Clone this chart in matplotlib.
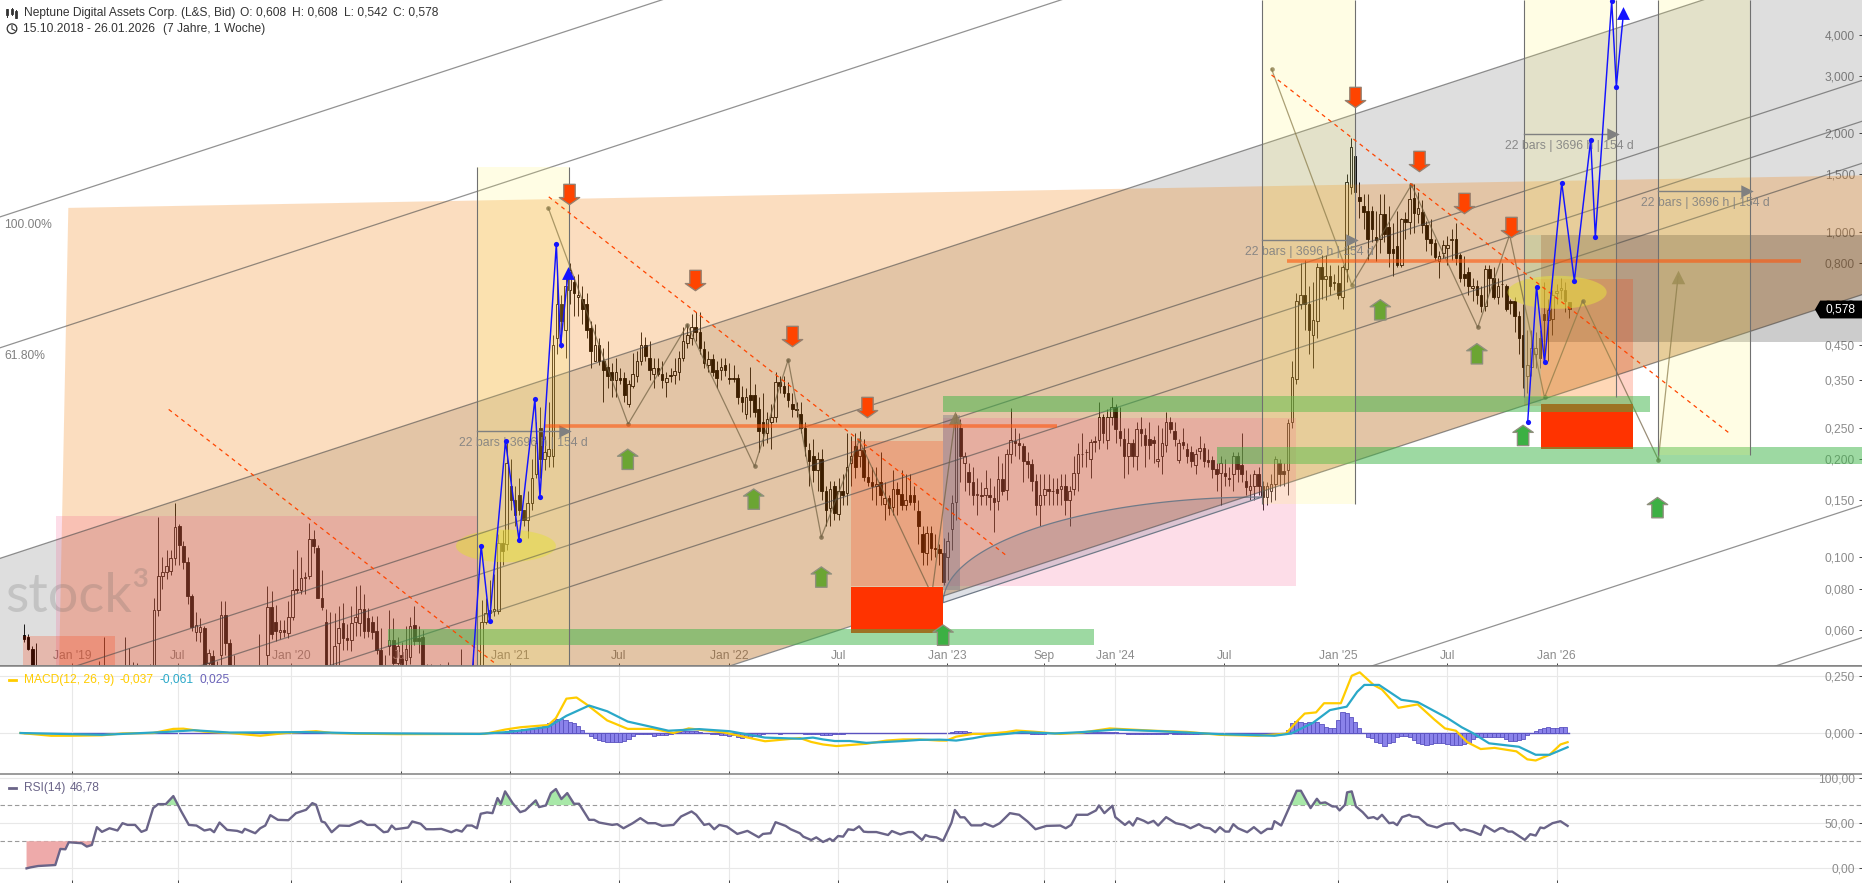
import numpy as np
import matplotlib
matplotlib.use('Agg')
import matplotlib.pyplot as plt
from matplotlib.path import Path
from matplotlib.patches import Polygon, Rectangle
from matplotlib.ticker import NullLocator, FixedLocator, FixedFormatter
plt.rcParams['font.family'] = ['Liberation Sans', 'DejaVu Sans']

# ---------- weekly candles ----------
opens = [
.0578,.057,.0525,.044,.04,.038,.036,.037,.035,.034,
.036,.035,.034,.033,.035,.034,.036,.035,.037,.036,
.04,.038,.037,.036,.038,.041,.039,.038,.04,.041,
.043,.045,.069,.0875,.09,.091,.0995,.125,.108,.097,
.076,.0588,.059,.0607,.0475,.0498,.046,.05,.0667,.0545,
.042,.04,.039,.038,.04,.039,.041,.04,.05,.0705,
.0635,.059,.06,.0585,.0655,.08,.0795,.0865,.0875,.114,
.107,.075,.0635,.044,.044,.0546,.0628,.0565,.0558,.0635,
.0628,.0695,.065,.0635,.0596,.052,.044,.0535,.0558,.0473,
.05,.0485,.0494,.0618,.0565,.057,.045,.043,.042,.04,.041,
.042,.04,.041,.04,.039,.041,.041,.0465,.045,.0635,
.0675,.0685,.0685,.111,.11,.165,.15,.155,.14,.13,
.147,.18,.25,.2,.205,.205,.47,.6,.5,.66,
.70,.63,.62,.6,.505,.40,.45,.40,.385,.37,
.35,.355,.355,.295,.335,.36,.40,.45,.41,.365,
.38,.365,.345,.362,.362,.37,.41,.455,.47,.51,
.49,.435,.39,.405,.375,.375,.39,.355,.355,.355,
.31,.275,.315,.315,.285,.26,.24,.26,.27,.345,
.335,.32,.295,.285,.275,.25,.214,.205,.186,.2,
.16,.142,.165,.136,.16,.158,.195,.22,.205,.214,
.177,.17,.166,.17,.146,.152,.143,.162,.156,.145,
.155,.155,.139,.118,.103,.119,.107,.106,.103,.10,
.122,.148,.25,.195,.183,.17,.155,.155,.155,.155,
.152,.149,.174,.161,.208,.228,.224,.22,.198,.193,
.172,.145,.155,.162,.16,.162,.162,.166,.15,.162,
.181,.208,.21,.2,.228,.229,.27,.229,.27,.29,
.245,.23,.204,.224,.205,.247,.237,.23,.229,.198,
.204,.222,.26,.245,.199,.226,.215,.211,.192,.212,
.216,.199,.199,.187,.181,.182,.175,.18,.204,.192,
.171,.161,.166,.18,.166,.153,.16,.168,.195,.184,
.186,
.26,.352,.6,.64,.6,.48,.53,.78,.715,.73,
.70,.695,.63,.77,1.37,1.7,1.28,1.2,1.16,1.16,
.96,.95,1.13,1.03,.885,.9,.79,1.09,1.07,1.27,
1.13,1.15,1.05,.95,.92,.81,.86,.89,.94,.95,
.85,.74,.75,.67,.68,.64,.59,.77,.72,.63,
.69,.68,.61,.61,.55,.48,.36,.385,.42,.47,
.56,.535,.54,.65,.66,.66,.608]
closes = [
.056,.0525,.044,.04,.038,.036,.037,.035,.034,.036,
.035,.034,.033,.035,.034,.036,.035,.037,.036,.04,
.038,.037,.036,.038,.041,.039,.038,.04,.041,.043,
.045,.069,.0875,.09,.094,.0995,.124,.109,.097,.076,
.061,.062,.061,.046,.0508,.046,.043,.0667,.0545,.042,
.04,.039,.038,.04,.039,.041,.04,.042,.0705,.058,
.0595,.06,.059,.0655,.0795,.0795,.0865,.087,.114,.108,
.075,.0705,.046,.044,.0535,.0607,.0565,.0558,.0628,.0655,
.0695,.0596,.0596,.059,.052,.046,.042,.0558,.0473,.0533,
.047,.0522,.0615,.0553,.0553,.045,.043,.042,.04,.041,.042,
.04,.041,.04,.039,.041,.04,.0465,.045,.0635,.0675,
.069,.0695,.111,.1045,.195,.15,.135,.14,.13,.147,
.175,.225,.2,.21,.215,.45,.6,.53,.68,.76,
.65,.64,.58,.5,.43,.45,.40,.375,.36,.35,
.37,.35,.315,.34,.365,.40,.45,.415,.375,.38,
.365,.35,.355,.36,.372,.41,.46,.48,.51,.49,
.44,.395,.405,.37,.355,.385,.375,.353,.353,.31,
.30,.31,.305,.28,.245,.24,.265,.27,.345,.335,
.32,.305,.285,.283,.25,.22,.198,.186,.2,.16,
.14,.162,.137,.16,.155,.19,.205,.19,.214,.177,
.17,.166,.168,.155,.152,.142,.162,.156,.145,.15,
.148,.148,.125,.104,.119,.107,.106,.103,.084,.112,
.147,.26,.205,.205,.17,.155,.157,.154,.163,.153,
.148,.174,.16,.208,.229,.224,.222,.198,.193,.172,
.145,.155,.162,.16,.16,.158,.166,.15,.16,.181,
.208,.207,.21,.226,.226,.27,.24,.27,.29,.247,
.232,.204,.224,.204,.247,.24,.222,.222,.224,.201,
.224,.26,.247,.23,.224,.222,.204,.197,.207,.216,
.197,.196,.187,.18,.195,.178,.174,.204,.187,.18,
.164,.166,.18,.166,.153,.165,.168,.2,.18,.18,
.258,
.359,.61,.64,.6,.5,.535,.78,.715,.73,.68,
.695,.64,.78,1.42,1.82,1.32,1.24,1.15,.95,1.02,
.94,1.13,.98,.86,.86,.79,1.09,1.07,1.26,1.14,
1.18,1.05,.95,.92,.835,.84,.91,.91,.95,.83,
.72,.72,.68,.68,.64,.59,.77,.72,.63,.68,
.69,.58,.605,.55,.47,.385,.39,.44,.44,.41,
.535,.575,.64,.655,.67,.61,.578]
highs = [
.0625,.058,.0535,.0546,.043,.041,.04,.039,.038,.039,
.04,.038,.037,.038,.04,.041,.042,.044,.048,.0571,
.043,.042,.041,.043,.0571,.0527,.0478,.0475,.045,.046,
.047,.075,.133,.1,.105,.105,.147,.127,.112,.1,
.077,.068,.065,.0615,.0525,.052,.048,.0735,.0735,.056,
.05,.045,.044,.045,.044,.046,.058,.046,.0814,.0787,
.0715,.064,.064,.0735,.092,.105,.1,.09,.1275,.121,
.109,.0915,.0695,.068,.0675,.071,.0725,.0625,.071,.0815,
.0825,.077,.07,.066,.066,.0607,.05,.069,.065,.0571,
.055,.0615,.0655,.071,.0615,.06,.047,.047,.045,.047,.046,
.0478,.045,.044,.0525,.045,.046,.052,.054,.074,.075,
.085,.089,.118,.121,.225,.2,.165,.175,.14,.16,
.2,.26,.29,.235,.3,.48,.72,.64,.74,.8,
.73,.74,.68,.65,.53,.52,.47,.44,.46,.395,
.41,.38,.37,.35,.425,.43,.49,.475,.46,.41,
.41,.40,.37,.38,.41,.43,.51,.52,.56,.565,
.565,.46,.43,.42,.40,.41,.41,.395,.39,.365,
.335,.33,.385,.34,.31,.32,.28,.295,.37,.36,
.36,.345,.32,.30,.3,.26,.225,.23,.21,.215,
.165,.172,.172,.175,.18,.24,.235,.24,.245,.23,
.2,.19,.19,.21,.17,.155,.185,.17,.185,.18,
.18,.165,.15,.125,.125,.125,.118,.11,.115,.12,
.155,.275,.265,.21,.195,.19,.175,.17,.185,.175,
.165,.205,.195,.215,.288,.25,.24,.225,.21,.2,
.18,.18,.18,.18,.175,.175,.18,.18,.165,.205,
.225,.24,.215,.23,.235,.3,.275,.285,.31,.295,
.29,.25,.25,.23,.26,.27,.25,.26,.235,.255,
.25,.28,.27,.26,.23,.25,.225,.22,.215,.235,
.225,.215,.205,.195,.205,.2,.19,.21,.21,.24,
.185,.18,.185,.19,.172,.17,.18,.205,.2,.195,
.265,
.40,.65,.8,.82,.68,.7,.8,.85,.85,.79,
.74,.79,.79,1.5,1.94,1.75,1.42,1.3,1.3,1.2,
1.16,1.3,1.3,1.2,1.06,1.16,1.1,1.15,1.4,1.4,
1.32,1.25,1.08,1.09,.95,.87,.94,.97,1.02,1.06,
.86,.84,.78,.72,.71,.68,.79,.79,.78,.72,
.8,.69,.62,.63,.57,.6,.5,.5,.49,.5,
.7,.62,.66,.69,.72,.7,.608]
lows = [
.055,.052,.04,.037,.035,.034,.034,.033,.032,.033,
.033,.032,.031,.032,.032,.033,.033,.034,.034,.035,
.036,.035,.035,.035,.037,.037,.036,.037,.038,.04,
.042,.043,.066,.08,.086,.088,.095,.095,.092,.072,
.0595,.0555,.055,.04,.044,.044,.04,.042,.05,.04,
.038,.036,.035,.036,.037,.037,.038,.038,.045,.056,
.0555,.056,.057,.0565,.064,.078,.077,.077,.086,.103,
.075,.069,.04,.04,.04,.046,.052,.052,.0515,.0575,
.0575,.0565,.057,.056,.0505,.045,.04,.05,.046,.045,
.045,.046,.047,.054,.0508,.04,.04,.039,.038,.038,.039,
.038,.038,.038,.037,.038,.038,.039,.042,.044,.0625,
.064,.066,.067,.095,.105,.14,.125,.135,.125,.115,
.14,.175,.175,.185,.19,.19,.42,.44,.41,.6,
.55,.55,.52,.47,.38,.40,.39,.30,.33,.31,
.31,.34,.30,.29,.33,.345,.39,.40,.35,.33,
.36,.33,.31,.345,.34,.35,.40,.44,.45,.46,
.42,.38,.37,.36,.33,.35,.36,.34,.345,.295,
.28,.265,.27,.27,.21,.22,.225,.215,.26,.32,
.31,.29,.27,.27,.24,.205,.165,.17,.16,.15,
.125,.125,.13,.13,.145,.145,.165,.175,.19,.172,
.165,.15,.145,.145,.13,.135,.135,.135,.14,.14,
.145,.14,.11,.095,.095,.098,.10,.095,.082,.085,
.105,.13,.17,.16,.155,.145,.135,.145,.145,.14,
.12,.14,.155,.15,.195,.205,.2,.17,.175,.16,
.135,.125,.145,.145,.145,.145,.145,.135,.125,.155,
.16,.19,.19,.175,.21,.215,.225,.215,.255,.225,
.22,.175,.18,.19,.185,.22,.19,.2,.195,.19,
.18,.21,.24,.22,.195,.215,.195,.19,.18,.2,
.19,.19,.175,.16,.145,.165,.165,.16,.17,.17,
.155,.15,.15,.155,.14,.145,.148,.15,.165,.165,
.155,
.25,.34,.58,.5,.42,.38,.47,.62,.615,.64,
.66,.62,.58,.7,1.3,1.25,1.1,1.02,.82,.93,
.81,.86,.93,.78,.73,.78,.78,.95,.98,.99,
1.06,.99,.87,.85,.82,.72,.83,.79,.82,.79,
.7,.68,.64,.61,.6,.565,.57,.65,.62,.6,
.63,.57,.56,.49,.42,.33,.32,.36,.38,.38,
.4,.4,.48,.6,.62,.565,.542]

# ---------- axis labels ----------
price_ticks = [4, 3, 2, 1.5, 1, .8, .6, .45, .35, .25, .2, .15, .1, .08, .06]
price_labels = ['4,000', '3,000', '2,000', '1,500', '1,000', '0,800', '0,600', '0,450',
                '0,350', '0,250', '0,200', '0,150', '0,100', '0,080', '0,060']
time_ticks = [11.5, 36.6, 63.6, 89.7, 115.8, 141.7, 167.9, 193.9, 219.9, 243, 259.8, 285.8, 312.9, 338.9, 365]
time_labels = ["Jan '19", 'Jul', "Jan '20", 'Jul', "Jan '21", 'Jul', "Jan '22", 'Jul', "Jan '23",
               'Sep', "Jan '24", 'Jul', "Jan '25", 'Jul', "Jan '26"]

# ---------- drawing tools on the price pane: bar / price ----------
channel_left = [1.109, .4397, .0993, .0389, .0292, .0217, .00855, .00193, .00076]
channel_right = [83, 32.9, 7.43, 2.91, 2.18, 1.62, .64, .1446, .0567]
pink_zones = [(7.67, 107.8, .0464, .1342), (218.9, 303, .0819, .2683)]
orange_zones = [(-.31, 21.64, .0464, .0575), (197, 218.9, .0816, .2269), (357.1, 383.1, .292, .716)]
red_blocks = [(197, 218.9, .0587, .0813), (361.2, 383.1, .215, .2961)]
green_zones = [(218.9, 387.2, .2785, .3133), (284, 438, .1938, .2182), (86.6, 254.8, .0537, .0604)]
level_bars = [(124.1, 246, .2525), (300.9, 423.1, .8113)]
span_zones = [(107.8, 129.7, .0464, 1.583), (294.9, 317, .1461, 5.14), (357.1, 379.2, .3112, 5.14), (389.2, 411.1, .2055, 5.14)]
span_arrow_price = [.2435, .943, 1.994, 1.33]
span_text_bar = [118.9, 306, 368.1, 400.3]
span_text_price = [.2243, .8684, 1.836, 1.227]
dash_lines = [((34.5, 112), (.2845, .0475)), ((125, 233.7), (1.278, .1019)), ((297.1, 405.9), (3.025, .2417))]
zig1_bars = [124.9, 143.9, 158, 174, 182, 189.9, 198.9, 216.2, 221.8]
zig1_prices = [1.18, .2566, .5172, .1902, .404, .1155, .2285, .0769, .2683]
zig2_bars = [297.1, 316.2, 330.4, 346.2, 353.8, 362.1, 371.2, 389.2, 393.9]
zig2_prices = [3.155, .6863, 1.391, .5076, .977, .3096, .6142, .1994, .7277]
blue1_bars = [106.9, 108.9, 110.9, 114.7, 117.9, 121.7, 122.9, 126.8, 127.8, 129.6]
blue1_prices = [.0464, .1086, .0636, .2269, .1133, .306, .1528, .9168, .447, .7469]
blue2_bars = [358.1, 360.2, 362.1, 366.2, 369.2, 373.1, 374.2, 378.1, 379.2, 380.9]
blue2_prices = [.2603, .678, .3964, 1.413, .706, 1.911, .9612, 5.10, 2.785, 4.68]
down_bars = [129.8, 159.8, 182.8, 200.8, 317, 332.1, 343, 354.1]
down_prices = [1.305, .7087, .4765, .2888, 2.59, 1.648, 1.225, 1.034]
up_bars = [143.8, 173.8, 189.9, 218.9, 323, 346, 357, 389]
up_prices = [.2, .1509, .087, .0577, .5751, .4215, .2367, .1421]
up_colors = ['#6ba533', '#6ba533', '#6ba533', '#3cb043', '#6ba533', '#6ba533', '#3cb043', '#3cb043']
ellipses = [(114.8, .1084, 11.9, .05), (365.1, .651, 11.8, .0506)]
peach_bars = [10.6, 437.7, 437.7, 167.7, 8.4]
peach_prices = [1.182, 1.487, .639, .0464, .0464]
arc_start = (218.9, .0726)
arc_end = (294.9, .1532)

# ---------- MACD ----------
macd_bars = [-.8, 6.5, 11.3, 18.6, 23.5, 30.8, 35.6, 38, 42.9, 49, 56.3, 62.4, 69.6, 73.3, 79.4, 89, 109.7, 114.6,
             118.2, 124.9, 126.7, 129.2, 131.6, 134, 138.9, 143.8, 149.8, 154.7, 158.3, 166.8, 176.5, 184.8,
             187.5, 190.3, 193.5, 200.6, 205.4, 209.4, 213.3, 218, 219.7, 222, 226, 229.2, 234, 236.3, 240.3,
             246.8, 252, 258.6, 269, 276.9, 284.8, 293.9, 300.5, 303.1, 305, 307.7, 309.6, 313.6, 316.2, 318.1,
             321.4, 323.4, 327.3, 331.9, 335.8, 338.4, 341, 343.7, 346.9, 350.2, 355.4, 358, 360, 363.3, 365.9, 367.6]
macd_vals = [0, -.012, -.012, -.01, -.002, 0, .018, .019, .006, 0, -.012, 0, .008, 0, -.003, -.005, -.004, .015,
             .025, .035, .065, .15, .155, .125, .055, .018, .018, 0, .02, .002, -.036, -.022,
             -.039, -.05, -.057, -.047, -.033, -.028, -.028, -.033, -.033, -.016, -.004, -.004, .004, .011, .006,
             -.004, .002, .02, .01, .005, -.008, -.012, -.003, .05, .085, .09, .13, .13, .25, .265,
             .21, .19, .11, .125, .06, .02, .01, -.04, -.07, -.065, -.08, -.115, -.12, -.095, -.05, -.04]
signal_bars = [-.8, 18.6, 33.2, 40.5, 49, 67.2, 79.4, 108.5, 115.8, 124.9, 129.2, 134.6, 138.9, 143.8, 153.5, 160.8,
               168, 176.5, 184.8, 187.9, 190.3, 193.1, 196.7, 200.6, 205.4, 209.4, 213.3, 218, 219.7, 222, 226, 229.2,
               234, 237.6, 245.5, 252, 259.9, 270.4, 284.8, 297.8, 301.8, 307, 311, 315, 317.5, 319.2, 322.7,
               328, 331.9, 339, 342.4, 345, 348.9, 356, 360, 363.3, 367.6]
signal_vals = [0, -.008, .004, .012, .002, .004, -.001, -.004, .005, .027, .075, .12, .095, .05, .01, .017,
               .008, -.02, -.025, -.02, -.028, -.035, -.035, -.043, -.039, -.035, -.03, -.029, -.03, -.033, -.023, -.012,
               -.004, .004, -.002, .004, .015, .008, -.005, -.012, -.002, .045, .1, .115, .18, .21, .21,
               .145, .135, .065, .025, 0, -.045, -.06, -.095, -.095, -.062]
hist_first = list(range(114, 185))
hist_first_vals = [.006, .01, .012, .013, .014, .016, .017, .019, .02, .024, .03, .042, .052, .06, .06, .055, .05, .042,
                   .03, .015, 0, -.013, -.023, -.03, -.036, -.04, -.041, -.041, -.04, -.036, -.028, -.015, -.006,
                   -.005, -.005, -.006, -.012, -.009, -.009, -.007, -.005, .002, .004, .007, .01, .01, .008, .004,
                   .002, -.002, -.004, -.006, -.007, -.009, -.012, -.01, -.019, -.02, -.018, -.016, -.013, -.009,
                   -.004, .002, .002, -.001, -.003, -.002, -.001, 0, 0]
hist_mid = list(range(186, 197)) + list(range(221, 227)) + [240, 241, 242, 243] + list(range(253, 261)) + list(range(263, 273)) + list(range(274, 285)) + list(range(290, 300))
hist_mid_vals = [-.003, -.005, -.005, -.006, -.008, -.009, -.009, -.006, -.006, -.005, -.002,
                 .004, .008, .008, .008, .005, .002, -.004, -.004, -.004, -.004,
                 .002, .003, .004, .004, .004, .004, .004, .003,
                 -.005, -.006, -.006, -.006, -.005, -.006, -.006, -.006, -.005, -.004,
                 -.004, -.004, -.004, -.004, -.004, -.004, -.004, -.004, -.003, -.003, -.002,
                 -.004, -.005, -.005, -.005, -.005, -.005, -.005, -.005, -.004, -.004]
hist_last = list(range(301, 368))
hist_last_vals = [.013, .042, .052, .05, .045, .047, .047, .047, .039, .028, .02, .02, .057, .093, .086, .071, .05, .02,
                  .001, -.016, -.023, -.038, -.045, -.057, -.042, -.038, -.019, -.013, -.013, -.019, -.031, -.042,
                  -.048, -.054, -.05, -.045, -.042, -.045, -.048, -.052, -.052, -.052, -.05, -.045, -.026, -.019,
                  -.019, -.019, -.019, -.019, -.019, -.019, -.026, -.033, -.033, -.031, -.028, -.009, -.001, .01,
                  .016, .023, .028, .023, .023, .025, .025]

# ---------- RSI ----------
rsi_bars = [.65, 1.6, 3.4, 7.5, 8.7, 9.9, 10.7, 13.8, 15, 16.2, 17.4, 18.6, 20.4, 22.3, 23.5, 24.7, 26.5, 28, 29.2,
            30.8, 32, 33.8, 35.6, 37.5, 39.3, 41.1, 43, 44.4, 45.3, 46.6, 48.4, 50.8, 52, 52.6, 55.1, 56.3, 57.5, 58.7,
            60.5, 63, 64.8, 67.2, 68.7, 69.6, 70.9, 71.7, 73.3, 75.1, 77.5, 80.3, 81.8, 83.6, 85.7, 86.7, 87.6, 88.5,
            91.5, 92.5, 94.5, 95.8, 97.6, 99.4, 101.8, 103, 104.3, 105.5, 106.7, 107.9, 108.8, 110.3, 111.6, 112.8,
            113.6, 114.6, 116.4, 118.2, 119.4, 121.9, 122.7, 124.3, 125.5, 126.7, 128, 129.4, 131, 132.2, 134.6, 135.8,
            137, 140.1, 141.3, 142.8, 145, 146.8, 148.6, 150.4, 152, 154.7, 156.5, 159, 160.1, 162, 163.2, 164.4, 165.6,
            167.4, 169.9, 172.3, 175, 176, 177.8, 179, 181.4, 182.6, 184.8,
            185.6, 187.5, 188.7, 190.3, 191.9, 192.7, 193.9, 195.1, 196.3, 197.6, 198.9, 200, 201, 203, 205.8, 206.7,
            208.7, 210.6, 211.7, 213.9, 214.7, 215.7, 217.3, 218.9, 220.9, 221.7, 223, 224, 225.6, 228, 228.8, 230.8,
            232.4, 234.8, 237, 239, 240.9, 243.5, 246.8, 248.1, 249.4, 250.7, 253.3, 255.3, 256, 257.3, 259.2, 259.9,
            262.2, 263.2, 264.1, 265.1, 266.7, 267.7, 269, 270.1, 272, 274.3, 276.2, 277.8, 279.8, 281.1, 282.4, 283.7,
            284.8, 286.1, 287, 288, 289.1, 291.3, 292.9, 294.6, 296.1, 297.2, 297.8, 299.4, 301.8, 303.1, 304.1, 306.4,
            307.9, 308.7, 309.9, 311.6, 312.5, 313.3, 314.6, 315.1, 316.2, 317.2, 318.8, 320.1, 321.4, 322.3, 323.4,
            325.1, 326.1, 327, 328.2, 329.9, 330.6, 332.1, 334.2, 336.5, 338.4, 340.4, 342.1, 343, 345, 346.9, 347.8,
            350.2, 351.5, 352.2, 353.5, 354.4, 357.4, 358.7, 360, 361.1, 362, 364, 365.9, 367.6]
rsi_vals = [0, 1.1, 2.6, 3.7, 21.5, 21.1, 28.9, 27.8, 24.1, 25.9, 45.6, 40.4, 44.4, 41.9, 50, 48.1, 48.1, 40.4, 42.6,
            66.7, 71.1, 71.1, 80, 63, 48.1, 47.4, 41.9, 43.3, 40, 50.7, 42.6, 41.5, 39.6, 43.7, 38.9, 44.4, 47.4, 58.9,
            53.7, 53.3, 61.1, 64.8, 72.2, 70.4, 51.9, 50.7, 40, 47.4, 47, 52.6, 48.1, 48.1, 40, 40.7, 47.4, 43.3,
            45.2, 51.9, 49.3, 43.3, 43.3, 43.7, 40, 42.6, 40.7, 47.4, 47.4, 44.4, 60.4, 61.9, 61.1, 77.8,
            71.5, 85.2, 72.2, 62.2, 64.1, 75.2, 67.8, 69.6, 83.3, 87.8, 76.7, 83.3, 71.5, 71.5, 53.7, 53.7,
            50.7, 48.1, 48.9, 44.4, 50, 55.6, 50, 50, 47, 48.1, 57.4, 63, 59.3, 48.1, 49.3, 43.3, 48.1,
            46.3, 38.1, 41.5, 34.4, 38.1, 38.9, 51.1, 47, 43.3, 38.9,
            35.1, 31.4, 34.3, 29.2, 32.8, 30.3, 35.8, 35.1, 43.2, 42.4, 46.5, 40.6, 40.2, 40.2, 36.9, 41.3,
            37.6, 40.2, 40.2, 31.4, 36.9, 35.1, 34.3, 30.6, 50.6, 64.6, 56.5, 56.5, 47.6, 47.6, 49.8, 46.1,
            50, 61.1, 59.3, 51.9, 43.3, 47, 47.4, 44.4, 48.1, 59.3, 59.3, 64.1, 69.6, 61.1, 69.3, 56.7,
            48.1, 51.9, 47.4, 55.6, 52.6, 50, 52.6, 47.4, 56.7, 50, 48.1, 44.4, 48.9, 45.2, 44.4, 40,
            45.6, 40.7, 40.7, 48.9, 44.4, 40, 45.6, 38.9, 43.7, 43.7, 52.2, 47.4, 72.2, 85.9, 85.9, 66.7,
            77, 72.2, 73, 68.5, 68.5, 64.1, 70.4, 84.1, 85.2, 68.5, 62.2, 55.6, 56.7, 54.4, 59.3,
            50, 50.7, 47.8, 56.7, 59.3, 57.4, 56.7, 48.1, 45.2, 49.3, 50, 41.9, 43.3, 40.7, 37, 47.4,
            40.7, 44.4, 44.4, 40.7, 40.7, 31.5, 37.8, 36.3, 45.2, 44.4, 50, 52.2, 47]

GREY = '#8c8c8c'
FS = 8.64
W, H = 1862, 883
fig = plt.figure(figsize=(W / 100, H / 100), dpi=100, facecolor='white')
ax = fig.add_axes([0, (H - 666) / H, 1, 666 / H])
ax_m = fig.add_axes([0, (H - 774.3) / H, 1, 108.3 / H])
ax_r = fig.add_axes([0, 0, 1, (H - 774.3) / H])
XL, XR = -5.67, 437.7
for a in (ax, ax_m, ax_r):
    a.set_xlim(XL, XR)
    for s in a.spines.values():
        s.set_visible(False)
    a.spines['top'].set_visible(True)
    a.spines['top'].set_color('#808080')
    a.spines['top'].set_linewidth(1.1)
    a.xaxis.set_major_locator(FixedLocator(time_ticks))
    a.tick_params(axis='x', direction='in', length=2.5, width=.7, color='#444444', top=False, bottom=True)
ax.spines['top'].set_visible(False)
ax.spines['bottom'].set_visible(True)
ax.spines['bottom'].set_color('#808080')
ax.spines['bottom'].set_linewidth(1.1)

# price pane
ax.set_yscale('log')
ax.set_ylim(.0464, 5.137)
ax.yaxis.set_major_locator(FixedLocator(price_ticks))
ax.yaxis.set_major_formatter(FixedFormatter(price_labels))
ax.yaxis.set_minor_locator(NullLocator())
ax.yaxis.tick_right()
ax.tick_params(axis='y', direction='in', length=2.5, width=.7, color='#444444', pad=-5, labelcolor=GREY, labelsize=FS)
for t in ax.get_yticklabels():
    t.set_ha('right')
ax.set_xticklabels(time_labels, fontsize=FS, color=GREY)
ax.tick_params(axis='x', pad=-3)
for t in ax.get_xticklabels():
    t.set_va('bottom')

# candles (under the translucent drawing tools)
n = min(len(opens), len(closes), len(highs), len(lows))
bars = np.arange(n)
o, c, hi, lo = [np.array(v[:n]) for v in (opens, closes, highs, lows)]
ax.vlines(bars, lo, hi, color='black', lw=.62, zorder=1)
up = c >= o
ax.bar(bars[up], (c - o)[up], bottom=o[up], width=.62, facecolor='white', edgecolor='black', lw=.62, zorder=1.2)
ax.bar(bars[~up], (o - c)[~up], bottom=c[~up], width=.62, facecolor='black', edgecolor='black', lw=.62, zorder=1.2)


def rect(x0, x1, p0, p1, color, z):
    ax.add_patch(Rectangle((x0, p0), x1 - x0, p1 - p0, facecolor=color, edgecolor='none', zorder=z))


# grey channel and peach fan
ax.add_patch(Polygon([(XL, channel_left[2]), (XR, channel_right[2]), (XR, channel_right[6]), (XL, channel_left[6])],
                     facecolor=(0, 0, 0, .13), edgecolor='none', zorder=2))
ax.add_patch(Polygon(list(zip(peach_bars, peach_prices)), facecolor=(243 / 255, 123 / 255, 0, .25), edgecolor='none', zorder=2.1))
rect(361.2, XR, .459, .977, (0, 0, 0, .2), 2.2)
for x0, x1, p0, p1 in pink_zones:
    rect(x0, x1, p0, p1, (245 / 255, 85 / 255, 140 / 255, .2), 2.3)
for x0, x1, p0, p1 in orange_zones:
    rect(x0, x1, p0, p1, (1, 50 / 255, 0, .22), 2.4)
rect(218.9, 222.9, .0796, .274, (100 / 255, 110 / 255, 130 / 255, .35), 2.45)
rect(357.1, 361.2, .2982, .977, (130 / 255, 190 / 255, 190 / 255, .3), 2.45)

# fib arc
t = np.linspace(0, np.pi / 2, 80)
ax_x = arc_end[0] - (arc_end[0] - arc_start[0]) * np.cos(t)
ax_y = arc_start[1] * (arc_end[1] / arc_start[1]) ** np.sin(t)
ax.add_patch(Polygon(np.column_stack([ax_x, ax_y]), facecolor=(90 / 255, 100 / 255, 125 / 255, .2),
                     edgecolor='#707a88', lw=.9, zorder=2.5))

# yellow ellipses
for xc, pc, rx, rlog in ellipses:
    a_ = np.linspace(0, 2 * np.pi, 100)
    ax.add_patch(Polygon(np.column_stack([xc + rx * np.cos(a_), pc * 10 ** (rlog * np.sin(a_))]),
                         facecolor=(225 / 255, 218 / 255, 60 / 255, .55), edgecolor='none', zorder=2.6))

# channel lines
for pl, pr in zip(channel_left, channel_right):
    ax.plot([XL, XR], [pl, pr], color='#4a4a4a', alpha=.6, lw=.9, zorder=3)

# brown zigzags
for xs, ps in ((zig1_bars, zig1_prices), (zig2_bars, zig2_prices)):
    ax.plot(xs, ps, color='#6f5f40', alpha=.7, lw=.9, zorder=3.1)
    ax.scatter(xs[:-1], ps[:-1], s=11, color='#6f5f40', alpha=.75, lw=0, zorder=3.1)
    ax.scatter(xs[-1:], ps[-1:], marker='^', s=95, color='#8c7a55', alpha=.9, lw=0, zorder=3.1)

# red blocks and green zones
for x0, x1, p0, p1 in red_blocks:
    rect(x0, x1, p0, p1, '#ff3300', 3.3)
for x0, x1, p0, p1 in green_zones:
    rect(x0, x1, p0, p1, (60 / 255, 180 / 255, 70 / 255, .5), 3.4)
# time spans
for (x0, x1, p0, p1), pa, tx, tp in zip(span_zones, span_arrow_price, span_text_bar, span_text_price):
    rect(x0, x1, p0, p1, (1, 245 / 255, 100 / 255, .17), 3.5)
    ax.vlines([x0, x1], p0, p1, color='#707070', lw=.8, zorder=3.6)
    ax.plot([x0, x1 - 1], [pa, pa], color='#808080', lw=1, zorder=3.7)
    ax.scatter([x1 - .8], [pa], marker='>', s=80, color='#808080', lw=0, zorder=3.7)
    ax.text(tx, tp, '22 bars | 3696 h | 154 d', color='#808080', fontsize=8.85, ha='center', va='center', alpha=.9, zorder=3.8)
# horizontal levels
for x0, x1, p in level_bars:
    ax.plot([x0, x1], [p, p], color=(1, 85 / 255, 10 / 255, .6), lw=2.6, solid_capstyle='butt', zorder=3.9)
# dashed
for xs, ps in dash_lines:
    ax.plot(xs, ps, color='#ff4500', lw=.9, dashes=(3.2, 3.2), zorder=4)
# blue
for xs, ps in ((blue1_bars, blue1_prices), (blue2_bars, blue2_prices)):
    ax.plot(xs, ps, color='#1414ff', lw=1.05, zorder=4.2, clip_on=True)
    ax.scatter(xs[1 if xs[0] < 200 else 0:-1], ps[1 if xs[0] < 200 else 0:-1], s=14, color='#1414ff', lw=0, zorder=4.2)
    ax.scatter(xs[-1:], ps[-1:], marker='^', s=85, color='#1414ff', lw=0, zorder=4.3)

# block arrows
dn = Path([(-.28, .5), (.28, .5), (.28, -.15), (.5, -.15), (0, -.5), (-.5, -.15), (-.28, -.15), (-.28, .5)], closed=True)
upm = Path([(-.28, -.5), (.28, -.5), (.28, .15), (.5, .15), (0, .5), (-.5, .15), (-.28, .15), (-.28, -.5)], closed=True)
ax.scatter(down_bars, down_prices, marker=dn, s=215, color='#ff4400', edgecolors='#95806f', linewidths=.95, zorder=4.5)
ax.scatter(up_bars, up_prices, marker=upm, s=215, c=up_colors, edgecolors='#8f8f7d', linewidths=.95, zorder=4.5)

# price tag
tag = Path([(-.5, 0), (-.39, .19), (.5, .19), (.5, -.19), (-.39, -.19), (-.5, 0)], closed=True)
ax.scatter([432.1], [closes[-1]], marker=tag, s=1145, color='black', lw=0, zorder=6, clip_on=False)
ax.text(432.6, closes[-1], '0,578', color='white', fontsize=FS, ha='center', va='center', zorder=7)
ax.text(XL + 1, 1.05, '100.00%', color='#808080', fontsize=FS, va='center', zorder=5)
ax.text(XL + 1, .4157, '61.80%', color='#808080', fontsize=FS, va='center', zorder=5)

# MACD pane
ax_m.set_ylim(-.1803, .2926)
ax_m.grid(axis='x', color='#e8e8e8', lw=.8)
for v in (.25, 0):
    ax_m.axhline(v, color='#e8e8e8', lw=.8, zorder=0)
ax_m.plot([0, 368], [0, 0], color='#5a52c0', lw=1, zorder=1)
ax_m.bar(hist_first, hist_first_vals, width=1, facecolor='#8a82ea', edgecolor='#5a52c0', lw=.6, zorder=2)
ax_m.bar(hist_mid, hist_mid_vals, width=1, facecolor='#8a82ea', edgecolor='#5a52c0', lw=.6, zorder=2)
ax_m.bar(hist_last, hist_last_vals, width=1, facecolor='#8a82ea', edgecolor='#5a52c0', lw=.6, zorder=2)
ax_m.plot(macd_bars, macd_vals, color='#ffcc00', lw=1.6, zorder=3)
ax_m.plot(signal_bars, signal_vals, color='#2aa8c8', lw=1.6, zorder=4)
ax_m.yaxis.tick_right()
ax_m.set_yticks([.25, 0])
ax_m.set_yticklabels(['0,250', '0,000'])
ax_m.tick_params(axis='y', direction='in', length=2.5, width=.7, color='#444444', pad=-5, labelcolor=GREY, labelsize=FS)
for t in ax_m.get_yticklabels():
    t.set_ha('right')
ax_m.set_xticklabels([])

# RSI pane
ax_r.set_ylim(-16.2, 104.1)
ax_r.grid(axis='x', color='#e8e8e8', lw=.8)
for v in (100, 50, 0):
    ax_r.axhline(v, color='#e8e8e8', lw=.8, zorder=0)
for v in (70, 30):
    ax_r.axhline(v, color='#9a9a9a', lw=.8, dashes=(4, 2.5), zorder=1)
rb, rv = np.array(rsi_bars), np.array(rsi_vals)
ax_r.fill_between(rb, rv, 70, where=rv > 70, interpolate=True, color='#a8e8a8', lw=0, zorder=2)
ax_r.fill_between(rb, rv, 30, where=rv < 30, interpolate=True, color='#eeaaaa', lw=0, zorder=2)
ax_r.plot(rb, rv, color='#6a6488', lw=1.7, zorder=3)
ax_r.yaxis.tick_right()
ax_r.set_yticks([100, 50, 0])
ax_r.set_yticklabels(['100,00', '50,00', '0,00'])
ax_r.tick_params(axis='y', direction='in', length=2.5, width=.7, color='#444444', pad=-5, labelcolor=GREY, labelsize=FS)
for t in ax_r.get_yticklabels():
    t.set_ha('right')
ax_r.set_xticklabels([])

# overlay for header / legends / watermark in pixel space
ov = fig.add_axes([0, 0, 1, 1], facecolor='none')
ov.set_xlim(0, W)
ov.set_ylim(H, 0)
ov.axis('off')
ov.text(5, 596, 'stock³', fontsize=39, family='Lato', color=(.35, .35, .35, .2), va='center', ha='left')
DARK = '#333333'
header = [(23.7, 'Neptune Digital Assets Corp. (L&S, Bid)'), (240, 'O: 0,608'), (292.4, 'H: 0,608'),
          (343.6, 'L: 0,542'), (393.4, 'C: 0,578')]
for x, s in header:
    ov.text(x, 12.7, s, color=DARK, fontsize=FS, va='center')
ov.text(23, 28.7, '15.10.2018 - 26.01.2026', color=DARK, fontsize=FS, va='center')
ov.text(163, 28.7, '(7 Jahre, 1 Woche)', color=DARK, fontsize=FS, va='center')
for x, y0, y1, b0, b1 in ((7, 9, 17, 10, 14), (11.5, 8, 15, 10, 13), (16, 10, 18, 12, 17)):
    ov.plot([x, x], [y0, y1], color=DARK, lw=.7)
    ov.plot([x, x], [b0, b1], color=DARK, lw=2)
ov.add_patch(plt.Circle((12, 28.7), 4.8, fill=False, edgecolor=DARK, lw=.9))
ov.plot([12, 12, 15], [25.5, 29, 30.5], color=DARK, lw=.8)
ov.plot([9, 16], [680, 680], color='#ffcc00', lw=2)
ov.text(23.7, 680, 'MACD(12, 26, 9)', color='#ffcc00', fontsize=FS, va='center')
ov.text(119, 680, '-0,037', color='#ffcc00', fontsize=FS, va='center')
ov.text(159, 680, '-0,061', color='#2aa8c8', fontsize=FS, va='center')
ov.text(199, 680, '0,025', color='#6a62b8', fontsize=FS, va='center')
ov.plot([9, 16], [788, 788], color='#6a6488', lw=2)
ov.text(23.7, 788, 'RSI(14)', color='#6a6488', fontsize=FS, va='center')
ov.text(70, 788, '46,78', color='#6a6488', fontsize=FS, va='center')

fig.savefig('out.png', dpi=100)
